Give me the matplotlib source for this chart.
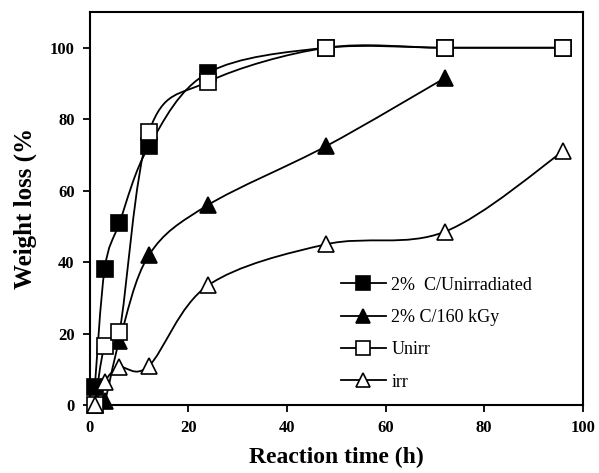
import matplotlib
matplotlib.use("Agg")
import matplotlib.pyplot as plt
import numpy as np
from matplotlib.path import Path
from matplotlib.patches import PathPatch
from matplotlib.lines import Line2D

plt.rcParams['font.family'] = ['Liberation Serif', 'DejaVu Serif']

# reaction times (h) and weight loss (%)
t_c_unirr = [1, 3, 6, 12, 24, 48, 72, 96]
w_c_unirr = [5, 38, 51, 72.5, 93, 100, 100, 100]

t_c_160 = [1, 3, 6, 12, 24, 48, 72]
w_c_160 = [0, 1, 18, 42, 56, 72.5, 91.5]

t_unirr = [1, 3, 6, 12, 24, 48, 72, 96]
w_unirr = [0, 16.5, 20.5, 76.5, 90.5, 100, 100, 100]

t_irr = [1, 3, 6, 12, 24, 48, 72, 96]
w_irr = [0, 6.5, 10.5, 11, 33.5, 45, 48.5, 71]

labels = ["2%  C/Unirradiated", "2% C/160 kGy", "Unirr", "irr"]


def smooth_path(x, y):
    """Excel style smoothed line: cubic bezier through every point"""
    p = np.column_stack([x, y]).astype(float)
    verts = [p[0]]
    codes = [Path.MOVETO]
    n = len(p)
    for i in range(n - 1):
        p0 = p[i - 1] if i > 0 else p[i]
        p3 = p[i + 2] if i + 2 < n else p[i + 1]
        c1 = p[i] + (p[i + 1] - p0) / 6.0
        c2 = p[i + 1] - (p3 - p[i]) / 6.0
        verts += [c1, c2, p[i + 1]]
        codes += [Path.CURVE4] * 3
    return Path(verts, codes)


fig = plt.figure(figsize=(5.99, 4.73), dpi=100)
ax = fig.add_axes([0.150, 0.1438, 0.823, 0.8308])

series = [
    (t_c_unirr, w_c_unirr, 's', 'black'),
    (t_c_160, w_c_160, '^', 'black'),
    (t_unirr, w_unirr, 's', 'white'),
    (t_irr, w_irr, '^', 'white'),
]

handles = []
for (x, y, m, fc), lab in zip(series, labels):
    ax.add_patch(PathPatch(smooth_path(x, y), facecolor='none', edgecolor='black', lw=1.3, zorder=2))
    ax.plot(x, y, ls='none', marker=m, ms=11.5 if m == 's' else 12, mfc=fc, mec='black',
            mew=1.2, clip_on=False, zorder=3)
    handles.append(Line2D([], [], color='black', lw=1.3, marker=m, ms=10, mfc=fc, mec='black', mew=1.2))

ax.set_xlim(0, 100)
ax.set_ylim(0, 110)
ax.set_xticks([0, 20, 40, 60, 80, 100])
ax.set_yticks([0, 20, 40, 60, 80, 100])
ax.tick_params(direction='out', length=5, width=1.3, labelsize=12, pad=6)
for lab in ax.get_xticklabels() + ax.get_yticklabels():
    lab.set_fontweight('bold')
for s in ax.spines.values():
    s.set_linewidth(1.5)

ax.set_xlabel("Reaction time (h)", fontsize=17, fontweight='bold', labelpad=8)
ax.set_ylabel("Weight loss (%", fontsize=18, fontweight='bold', labelpad=9)

ax.legend(handles, labels, loc='lower right', bbox_to_anchor=(0.93, -0.005), frameon=False,
          fontsize=13, handlelength=2.5, handletextpad=0.3, labelspacing=0.85)

fig.savefig("out.png", dpi=100)
